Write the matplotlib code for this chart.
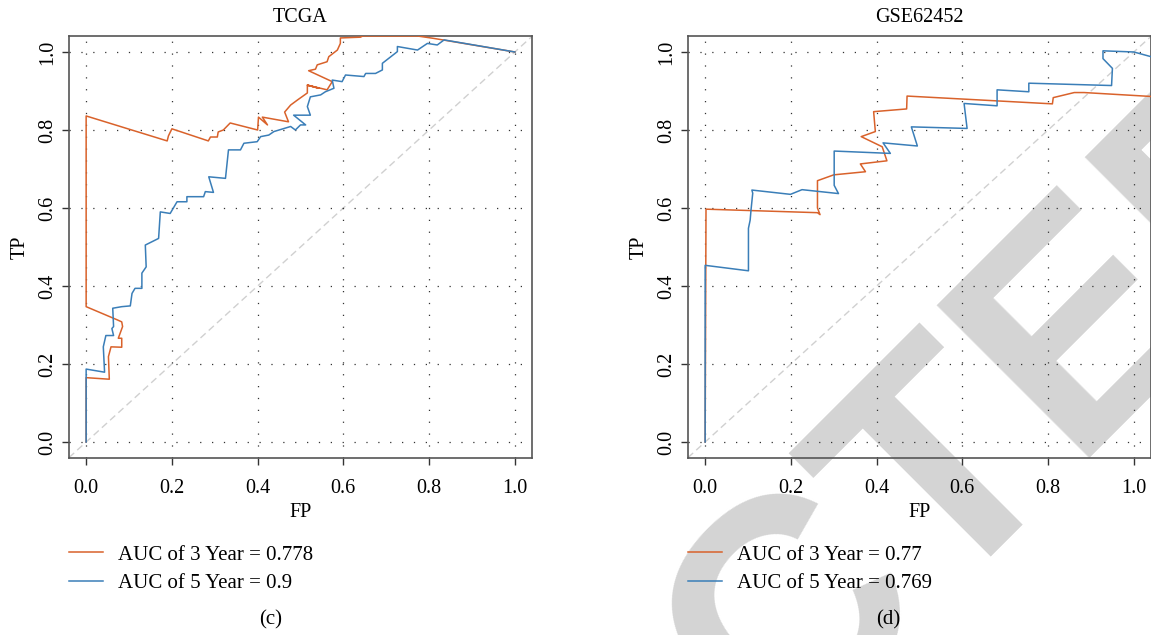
import matplotlib
matplotlib.use('Agg')
import matplotlib.pyplot as plt

plt.rcParams['font.family'] = ['Liberation Serif', 'DejaVu Serif']

# TCGA, 3 year (orange) and 5 year (blue)
tcga_fp3 = [0, 0, 0.054, 0.052, 0.058, 0.083, 0.083, 0.075, 0.085, 0.083, 0.073, 0, 0,
            0.189, 0.192, 0.20, 0.285, 0.29, 0.306, 0.308, 0.32, 0.336, 0.40, 0.402, 0.423,
            0.411, 0.472, 0.463, 0.477, 0.493, 0.516, 0.516, 0.543, 0.516, 0.562, 0.574,
            0.519, 0.535, 0.539, 0.562, 0.566, 0.586, 0.593, 0.593, 0.64, 0.645, 0.773,
            0.81, 1.0]
tcga_tp3 = [0, 0.165, 0.161, 0.219, 0.244, 0.243, 0.266, 0.266, 0.296, 0.308, 0.313, 0.347,
            0.836, 0.772, 0.785, 0.803, 0.772, 0.782, 0.782, 0.795, 0.80, 0.818, 0.80, 0.833,
            0.813, 0.833, 0.821, 0.846, 0.864, 0.877, 0.895, 0.915, 0.907, 0.915, 0.903,
            0.924, 0.952, 0.956, 0.967, 0.975, 0.988, 1.005, 1.022, 1.036, 1.038, 1.041,
            1.041, 1.035, 1.0]
tcga_fp5 = [0, 0, 0.043, 0.04, 0.046, 0.064, 0.06, 0.064, 0.062, 0.083, 0.103, 0.107, 0.114,
            0.13, 0.13, 0.14, 0.138, 0.169, 0.173, 0.196, 0.212, 0.235, 0.235, 0.274, 0.278,
            0.297, 0.286, 0.325, 0.332, 0.36, 0.368, 0.399, 0.407, 0.426, 0.438, 0.477,
            0.488, 0.50, 0.512, 0.484, 0.523, 0.516, 0.523, 0.547, 0.558, 0.578, 0.574,
            0.597, 0.605, 0.648, 0.652, 0.675, 0.691, 0.691, 0.726, 0.726, 0.773, 0.796,
            0.819, 0.835, 1.0]
tcga_tp5 = [0, 0.187, 0.179, 0.244, 0.273, 0.273, 0.291, 0.296, 0.343, 0.347, 0.349, 0.381,
            0.394, 0.394, 0.433, 0.449, 0.505, 0.522, 0.59, 0.586, 0.616, 0.616, 0.629, 0.629,
            0.642, 0.64, 0.68, 0.676, 0.749, 0.749, 0.766, 0.77, 0.783, 0.787, 0.796, 0.809,
            0.80, 0.813, 0.813, 0.838, 0.838, 0.86, 0.885, 0.89, 0.898, 0.907, 0.928, 0.924,
            0.941, 0.937, 0.945, 0.945, 0.954, 0.971, 1.001, 1.014, 1.005, 1.022, 1.018,
            1.031, 1.0]

# GSE62452
gse_fp3 = [0, 0.002, 0.262, 0.268, 0.262, 0.262, 0.30, 0.374, 0.362, 0.424, 0.413, 0.364,
           0.397, 0.393, 0.47, 0.471, 0.81, 0.812, 0.861, 0.884, 1.04]
gse_tp3 = [0, 0.597, 0.588, 0.583, 0.60, 0.67, 0.685, 0.693, 0.713, 0.721, 0.757, 0.783,
           0.796, 0.847, 0.854, 0.887, 0.867, 0.883, 0.896, 0.896, 0.886]
gse_fp5 = [0, 0, 0.101, 0.101, 0.105, 0.107, 0.111, 0.109, 0.199, 0.226, 0.311, 0.301, 0.301,
           0.432, 0.415, 0.495, 0.481, 0.611, 0.604, 0.681, 0.681, 0.755, 0.755, 0.948,
           0.95, 0.928, 0.928, 1.0, 1.04]
gse_tp5 = [0, 0.453, 0.439, 0.548, 0.569, 0.595, 0.638, 0.646, 0.635, 0.647, 0.637, 0.658,
           0.746, 0.74, 0.767, 0.759, 0.808, 0.804, 0.868, 0.862, 0.903, 0.898, 0.92, 0.914,
           0.958, 0.983, 1.003, 1.0, 0.988]

titles = ['TCGA', 'GSE62452']
legend_labels = [['AUC of 3 Year = 0.778', 'AUC of 5 Year = 0.9'],
                 ['AUC of 3 Year = 0.77', 'AUC of 5 Year = 0.769']]
panel_tags = ['(c)', '(d)']
ticks = [0, 0.2, 0.4, 0.6, 0.8, 1.0]
tick_labels = ['0.0', '0.2', '0.4', '0.6', '0.8', '1.0']

c3 = '#D9622B'
c5 = '#3A7EB8'
fs = 14.5

fig = plt.figure(figsize=(11.51, 6.35), dpi=100)
W, H = 1151, 635

# watermark behind everything
fig.text(693 / W, -199 / H, 'RETRACTED', rotation=45, rotation_mode='anchor',
         ha='center', va='baseline', fontsize=226, fontweight='bold',
         family='Liberation Sans', color='#d4d4d4', zorder=-5)

axes_left = [69, 688]
curves = [(tcga_fp3, tcga_tp3, tcga_fp5, tcga_tp5), (gse_fp3, gse_tp3, gse_fp5, gse_tp5)]
for i in range(2):
    ax = fig.add_axes([axes_left[i] / W, (H - 458) / H, 463 / W, 422 / H])
    ax.set_facecolor('none')
    fp3, tp3, fp5, tp5 = curves[i]
    ax.axline((0, 0), (1, 1), color='#d0d0d0', lw=1, dashes=(5, 3), zorder=1)
    ax.grid(True, color='#333333', linestyle=(0, (1, 8.5)), linewidth=0.9, zorder=0)
    l3, = ax.plot(fp3, tp3, color=c3, lw=1.1, zorder=3)
    l5, = ax.plot(fp5, tp5, color=c5, lw=1.1, zorder=3)
    ax.set_xlim(-0.04, 1.04)
    ax.set_ylim(-0.041, 1.041)
    ax.set_xticks(ticks)
    ax.set_xticklabels(tick_labels)
    ax.set_yticks(ticks)
    ax.set_yticklabels(tick_labels, rotation=90, va='center')
    ax.tick_params(direction='out', length=5, width=1, color='#333333', labelsize=fs)
    ax.tick_params(axis='x', pad=10)
    ax.tick_params(axis='y', pad=3.5)
    for s in ax.spines.values():
        s.set_color('#555555')
        s.set_linewidth(1.2)
    ax.set_title(titles[i], fontsize=fs, pad=10)
    ax.set_xlabel('FP', fontsize=fs, labelpad=4)
    ax.set_ylabel('TP', fontsize=fs, labelpad=6)
    ax.legend([l3, l5], legend_labels[i], loc='upper left',
              bbox_to_anchor=(axes_left[i] / W, (H - 545) / H),
              bbox_transform=fig.transFigure, frameon=False, fontsize=15,
              handlelength=1.63, handletextpad=0.72, labelspacing=0.42,
              borderpad=0, borderaxespad=0)

fig.text(271 / W, (H - 620) / H, panel_tags[0], ha='center', va='center', fontsize=15)
fig.text(888 / W, (H - 620) / H, panel_tags[1], ha='center', va='center', fontsize=15)

fig.savefig('out.png', dpi=100)
